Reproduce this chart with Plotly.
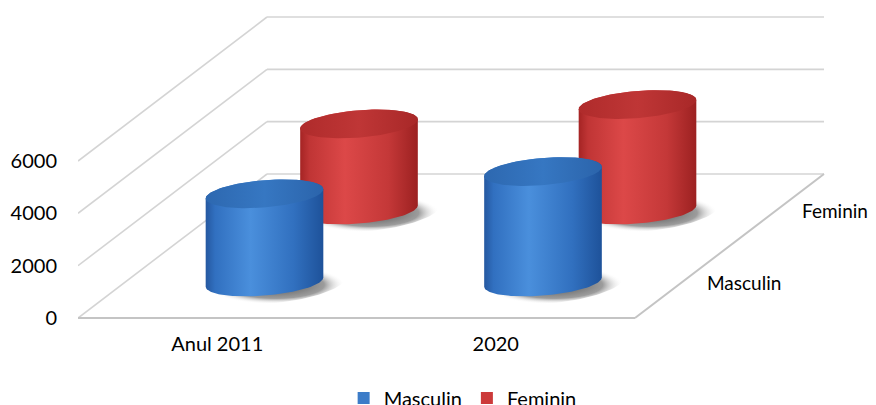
import numpy as np
import plotly.graph_objects as go

# ---------------- data ----------------
categories = ["Anul 2011", "2020"]
series_names = ["Masculin", "Feminin"]
masculin = [3370, 4220]
feminin = [3290, 4030]
y_ticks = [0, 2000, 4000, 6000]

series_values = [masculin, feminin]

# ---------------- styling ----------------
FONT = "Lato"
FS = 20
side_scales = [
    [[0, "#2558A0"], [0.08, "#3170C0"], [0.38, "#4A8FDC"], [0.75, "#3170BF"], [1, "#1E529A"]],
    [[0, "#A52424"], [0.08, "#C03535"], [0.38, "#DC4848"], [0.75, "#C43838"], [1, "#9C2121"]],
]
top_scales = [
    [[0, "#2D68B0"], [0.5, "#3677C2"], [1, "#2B64AB"]],
    [[0, "#AF2B2B"], [0.5, "#BF3636"], [1, "#A82828"]],
]
legend_colors = ["#3C7CC8", "#CC3A3A"]

# ---------------- oblique 3D frame (layout geometry) ----------------
W, H = 876, 405
OFF = 8                          # page body margin of the html page
PLOT_L, PLOT_B = 78 - OFF, 322 - OFF
ZERO_PX = 318 - OFF
PX_PER_CAT = 278.5
PX_PER_VAL = 157 / 6000
dx = 94.5 / PX_PER_CAT          # depth shift per series row, category units
dv = 72.0 / PX_PER_VAL          # depth shift per series row, value units
n_cat = len(categories)
n_ser = len(series_names)
R = 0.2                          # cylinder radius (category & row units)

x_range = [-0.5, -0.5 + (W - PLOT_L) / PX_PER_CAT]
y_range = [-(PLOT_B - ZERO_PX) / PX_PER_VAL, ZERO_PX / PX_PER_VAL]


def proj(x, d, v):
    return x + d * dx, v + d * dv


fig = go.Figure()

# walls and floor
wx, wy = [], []
for t in y_ticks:
    for a, b in [((-0.5, n_ser, t), (n_cat - 0.5, n_ser, t)),
                 ((-0.5, 0, t), (-0.5, n_ser, t))]:
        p, q = proj(*a), proj(*b)
        wx += [p[0], q[0], None]
        wy += [p[1], q[1], None]
fig.add_trace(go.Scatter(x=wx, y=wy, mode="lines", line=dict(color="#D4D4D4", width=1.6),
                         hoverinfo="skip", showlegend=False))
fx, fy = [], []
for a, b in [((-0.5, 0, 0), (n_cat - 0.5, 0, 0)),
             ((n_cat - 0.5, 0, 0), (n_cat - 0.5, n_ser, 0))]:
    p, q = proj(*a), proj(*b)
    fx += [p[0], q[0], None]
    fy += [p[1], q[1], None]
fig.add_trace(go.Scatter(x=fx, y=fy, mode="lines", line=dict(color="#C4C4C4", width=2),
                         hoverinfo="skip", showlegend=False))

theta_star = np.arctan(dx)
th_full = np.linspace(0, 2 * np.pi, 120)
th_top = np.linspace(theta_star, theta_star + np.pi, 80)
th_bot = np.linspace(theta_star + np.pi, theta_star + 2 * np.pi, 80)

# shadows
for s in range(n_ser):
    d0 = s + 0.5
    for c in range(n_cat):
        xs = c + 1.16 * R * np.cos(th_full) + (d0 + 1.35 * R * np.sin(th_full)) * dx + 0.04
        ys = (d0 + 1.35 * R * np.sin(th_full)) * dv - 110
        fig.add_trace(go.Scatter(
            x=xs, y=ys, mode="lines", fill="toself", line=dict(width=0),
            fillgradient=dict(type="radial", colorscale=[[0, "rgba(50,50,50,0.9)"],
                                                         [0.7, "rgba(90,90,90,0.6)"],
                                                         [1, "rgba(255,255,255,0)"]]),
            hoverinfo="skip", showlegend=False))

# cylinders, back row first
for s in reversed(range(n_ser)):
    d0 = s + 0.5
    for c in range(n_cat):
        h = series_values[s][c]
        sx = np.concatenate([c + R * np.cos(th_top) + (d0 + R * np.sin(th_top)) * dx,
                             c + R * np.cos(th_bot) + (d0 + R * np.sin(th_bot)) * dx])
        sy = np.concatenate([h + (d0 + R * np.sin(th_top)) * dv,
                             (d0 + R * np.sin(th_bot)) * dv])
        fig.add_trace(go.Scatter(
            x=sx, y=sy, mode="lines", fill="toself", line=dict(width=0),
            fillgradient=dict(type="horizontal", colorscale=side_scales[s],
                              start=float(sx.min()), stop=float(sx.max())),
            name=series_names[s], text=[f"{categories[c]}: {h}"] * len(sx),
            hoverinfo="text", showlegend=False))
        tx = c + R * np.cos(th_full) + (d0 + R * np.sin(th_full)) * dx
        ty = h + (d0 + R * np.sin(th_full)) * dv
        fig.add_trace(go.Scatter(
            x=tx, y=ty, mode="lines", fill="toself", line=dict(width=0),
            fillgradient=dict(type="horizontal", colorscale=top_scales[s],
                              start=float(tx.min()), stop=float(tx.max())),
            hoverinfo="skip", showlegend=False))

# legend entries
for s in range(n_ser):
    fig.add_trace(go.Scatter(x=[None], y=[None], mode="markers", name=series_names[s],
                             marker=dict(symbol="square", size=12, color=legend_colors[s]),
                             showlegend=True))

# depth-axis labels
for s in range(n_ser):
    px_, py_ = proj(n_cat - 0.5, s + 0.5, 0)
    fig.add_annotation(x=px_, y=py_, text=series_names[s], showarrow=False,
                       xanchor="left", yanchor="middle", xshift=23,
                       font=dict(family=FONT, size=19, color="#000000"))

fig.update_layout(
    width=W, height=H,
    margin=dict(l=PLOT_L, r=0, t=0, b=H - PLOT_B, autoexpand=False),
    paper_bgcolor="white", plot_bgcolor="white",
    font=dict(family=FONT, size=FS, color="#000000"),
    xaxis=dict(range=x_range, showgrid=False, zeroline=False, showline=False,
               tickvals=list(range(n_cat)), ticktext=categories, ticks="",
               ticklabelstandoff=8, fixedrange=True),
    yaxis=dict(range=y_range, showgrid=False, zeroline=False, showline=False,
               tickvals=y_ticks, ticks="", ticklabelstandoff=20, fixedrange=True),
    legend=dict(orientation="h", xref="container", yref="container",
                x=0.519, xanchor="center", y=0.085, yanchor="top",
                font=dict(family=FONT, size=FS, color="#000000"),
                bgcolor="rgba(0,0,0,0)"),
    showlegend=True,
)

fig.write_html("out.html")
